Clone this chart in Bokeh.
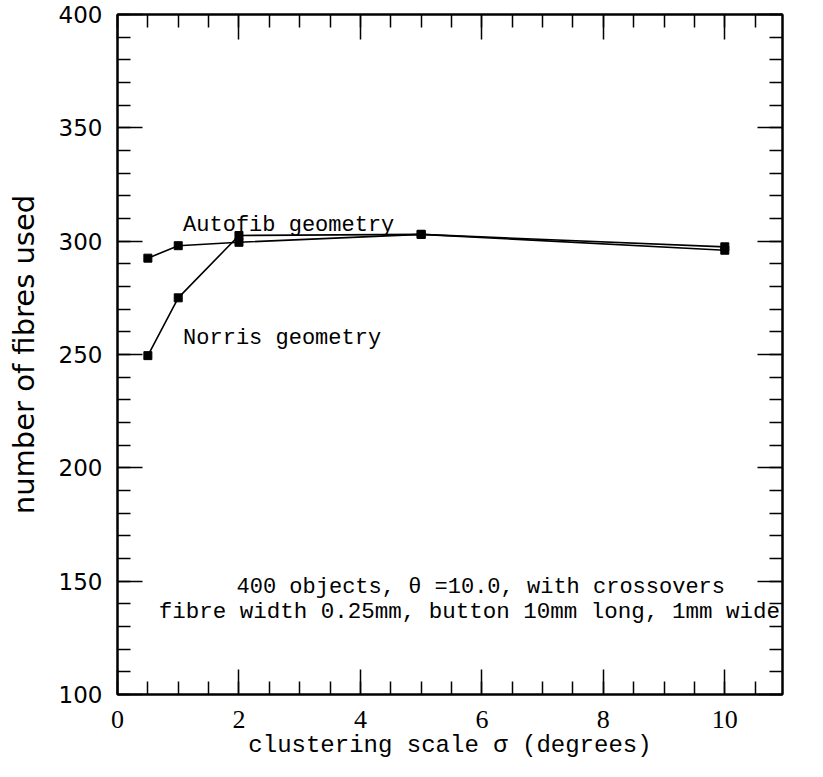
from bokeh.plotting import figure
from bokeh.models import Range1d, LinearAxis, Label, SingleIntervalTicker, CustomJSTickFormatter
from bokeh.embed import file_html
from bokeh.resources import INLINE

# ---- data ----
sigma = [0.5, 1, 2, 5, 10]
autofib = [292.5, 298.0, 299.5, 303.0, 297.5]
norris = [249.5, 275.0, 302.5, 303.0, 296.0]

x_ticks_interval = 2
y_ticks_interval = 50

SERIF = "Liberation Mono"

p = figure(width=805, height=761,
           x_range=Range1d(0, 10.95), y_range=Range1d(100, 400),
           output_backend="svg", toolbar_location=None,
           min_border_left=117, min_border_right=23,
           min_border_top=14, min_border_bottom=66,
           x_axis_label="clustering scale σ (degrees)",
           y_axis_label="number of fibres used")
p.grid.visible = False
p.outline_line_color = "black"
p.outline_line_width = 2
p.background_fill_color = "white"
p.border_fill_color = "white"

xa = p.below[0]
ya = p.left[0]
xa.ticker = SingleIntervalTicker(interval=x_ticks_interval, num_minor_ticks=4)
ya.ticker = SingleIntervalTicker(interval=y_ticks_interval, num_minor_ticks=5)

blank = CustomJSTickFormatter(code="return ''")
top = LinearAxis(ticker=SingleIntervalTicker(interval=x_ticks_interval, num_minor_ticks=4),
                 formatter=blank, major_label_standoff=0)
right = LinearAxis(ticker=SingleIntervalTicker(interval=y_ticks_interval, num_minor_ticks=5),
                   formatter=blank, major_label_standoff=0)
p.add_layout(top, "above")
p.add_layout(right, "right")

for ax in [xa, ya, top, right]:
    ax.axis_line_width = 2
    ax.axis_line_color = "black"
    ax.major_tick_in = 25
    ax.major_tick_out = 0
    ax.minor_tick_in = 13
    ax.minor_tick_out = 0
    ax.major_tick_line_width = 1.5
    ax.minor_tick_line_width = 1.5
    ax.major_tick_line_color = "black"
    ax.minor_tick_line_color = "black"

xa.major_label_text_font = "Liberation Serif"
xa.major_label_text_font_size = "26px"
xa.major_label_text_color = "black"
xa.major_label_standoff = 16
xa.axis_label_text_font = SERIF
xa.axis_label_text_font_size = "24px"
xa.axis_label_text_font_style = "normal"
xa.axis_label_text_color = "black"
xa.axis_label_standoff = 1

ya.major_label_text_font = "DejaVu Sans"
ya.major_label_text_font_size = "23px"
ya.major_label_text_color = "black"
ya.major_label_standoff = 15
ya.axis_label_text_font = "DejaVu Sans"
ya.axis_label_text_font_size = "29px"
ya.axis_label_text_font_style = "normal"
ya.axis_label_text_color = "black"
ya.axis_label_standoff = 15

for ys in [autofib, norris]:
    p.line(sigma, ys, line_color="black", line_width=1.6)
    p.scatter(sigma, ys, marker="square", size=8, color="black")

def lab(x, y, text, size, align="left"):
    p.add_layout(Label(x=x, y=y, text=text, text_font=SERIF,
                       text_font_size=size, text_color="black",
                       text_align=align, text_baseline="alphabetic"))

lab(1.08, 306.7, "Autofib geometry", "22px")
lab(1.08, 257.0, "Norris geometry", "22px")
lab(1.96, 147.0, "400 objects, θ =10.0, with crossovers", "22px")
lab(0.68, 136.5, "fibre width 0.25mm, button 10mm long, 1mm wide", "22.5px")

open("out.html", "w").write(file_html(p, INLINE))
